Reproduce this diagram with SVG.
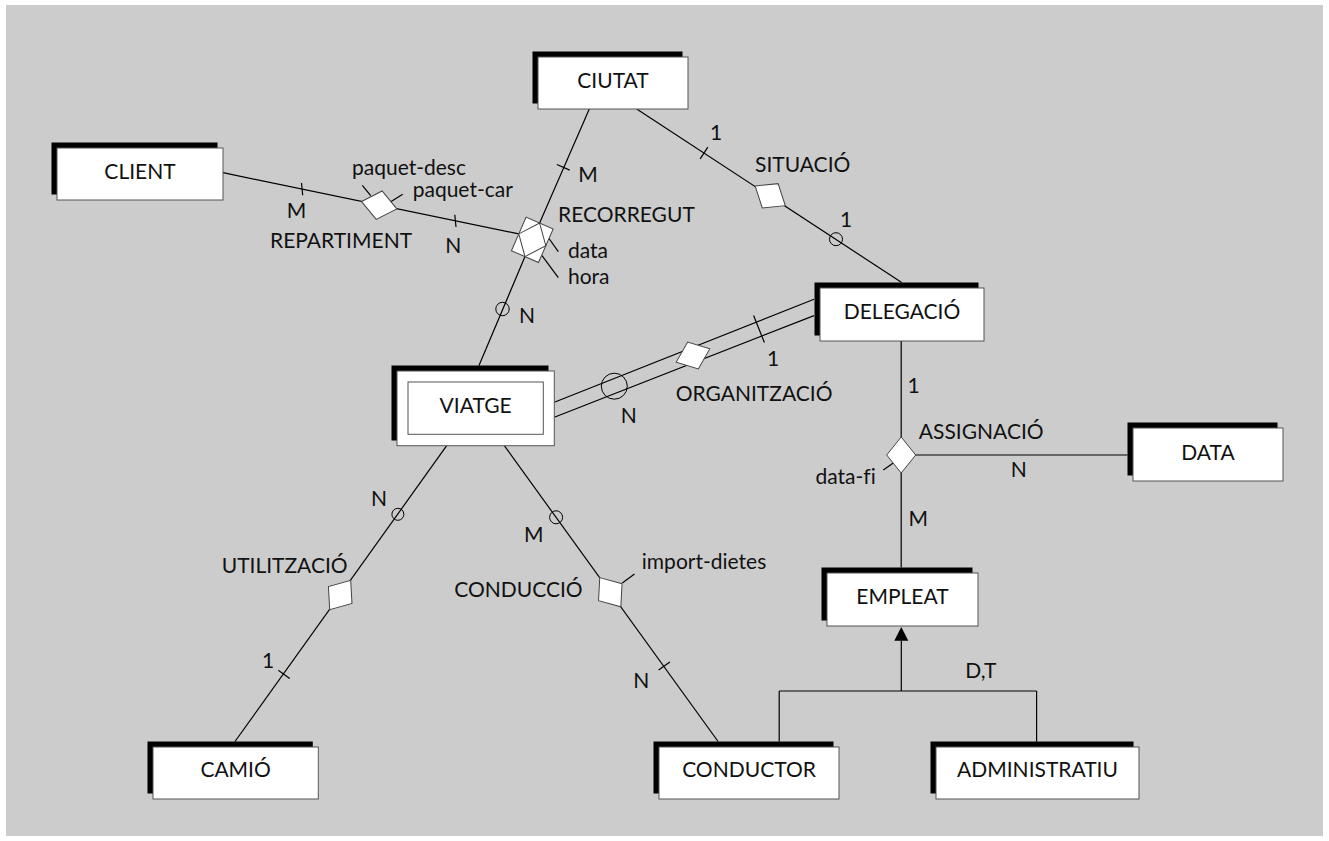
<svg xmlns="http://www.w3.org/2000/svg" xmlns:xlink="http://www.w3.org/1999/xlink" width="1329" height="841" viewBox="0 0 1329 841">
<style>
text{font-family:Lato,"Open Sans","Liberation Sans",sans-serif;font-size:21px;fill:#111;font-variant-ligatures:none}
.sh{fill:#000}
.bx{fill:#fff;stroke:#555;stroke-width:1}
.ln{stroke:#000;stroke-width:1.2;fill:none}
.ci{stroke:#000;stroke-width:1;fill:none}
.rh{fill:#fff;stroke:#444;stroke-width:1}
.m{text-anchor:middle}
.e{text-anchor:end}
</style>
<defs>
<polygon id="rh" class="rh" points="-18,0 0,-14.5 18,0 0,14.5"/>
</defs>
<rect x="0" y="0" width="1329" height="841" fill="#fff"/>
<rect x="6" y="5" width="1317" height="831" fill="#cccccc"/>

<g id="connectors">
<line class="ln" x1="223" y1="172.7" x2="518.8" y2="233.9"/>
<line class="ln" x1="301.5" y1="183" x2="302.7" y2="195.2"/>
<line class="ln" x1="454.8" y1="214.8" x2="456" y2="227"/>
<line class="ln" x1="362.3" y1="185.3" x2="370.7" y2="195.7"/>
<line class="ln" x1="390.7" y1="201.7" x2="402.7" y2="194.3"/>
<line class="ln" x1="589.3" y1="109" x2="539.6" y2="223"/>
<line class="ln" x1="556.9" y1="164.5" x2="569.7" y2="170.1"/>
<line class="ln" x1="525" y1="256.6" x2="479" y2="365.5"/>
<circle class="ci" cx="502.5" cy="309" r="6.7"/>
<line class="ln" x1="549" y1="238.5" x2="558.3" y2="251.7"/>
<line class="ln" x1="542" y1="255.7" x2="558.3" y2="277.7"/>
<line class="ln" x1="636.7" y1="109" x2="901.7" y2="282.5"/>
<line class="ln" x1="700.2" y1="158.9" x2="707.8" y2="147.1"/>
<circle class="ci" cx="836" cy="239.2" r="6.5"/>
<line class="ln" x1="554.3" y1="402.3" x2="814" y2="299.2"/>
<line class="ln" x1="554.3" y1="417.3" x2="814" y2="315.6"/>
<circle class="ci" cx="614.3" cy="386.2" r="13"/>
<line class="ln" x1="753.6" y1="315.5" x2="764.4" y2="342.5"/>
<line class="ln" x1="901.2" y1="341" x2="901.2" y2="567.5"/>
<line class="ln" x1="901.2" y1="455" x2="1127.5" y2="455"/>
<line class="ln" x1="883.3" y1="470" x2="893.6" y2="462.7"/>
<line class="ln" x1="446.7" y1="445.7" x2="235" y2="741.5"/>
<circle class="ci" cx="397.9" cy="514.3" r="6"/>
<line class="ln" x1="278.3" y1="670.2" x2="289.7" y2="678.4"/>
<line class="ln" x1="504.3" y1="445.7" x2="718.1" y2="741.5"/>
<circle class="ci" cx="556.1" cy="517.3" r="6.5"/>
<line class="ln" x1="658.6" y1="670.1" x2="669.9" y2="661.9"/>
<line class="ln" x1="622.3" y1="583" x2="634.5" y2="574"/>
<line class="ln" x1="901.3" y1="640.7" x2="901.3" y2="691"/>
<polygon points="901.3,627 894.3,640.7 908.3,640.7" fill="#000"/>
<line class="ln" x1="779.2" y1="691" x2="1036.6" y2="691"/>
<line class="ln" x1="779.2" y1="691" x2="779.2" y2="741.5"/>
<line class="ln" x1="1036.6" y1="691" x2="1036.6" y2="741.5"/>
<g id="cardinalities">
<text x="296.5" y="218" class="m">M</text>
<text x="453.3" y="253.3" class="m">N</text>
<text x="588" y="181.7" class="m">M</text>
<text x="527" y="322.7" class="m">N</text>
<text x="716" y="140" class="m">1</text>
<text x="846" y="226.7" class="m">1</text>
<text x="773" y="365.7" class="m">1</text>
<text x="628.8" y="423.3" class="m">N</text>
<text x="913.5" y="393" class="m">1</text>
<text x="1018.8" y="477.3" class="m">N</text>
<text x="918.2" y="525.7" class="m">M</text>
<text x="379" y="506" class="m">N</text>
<text x="268" y="668.3" class="m">1</text>
<text x="533.8" y="542.3" class="m">M</text>
<text x="641.2" y="688.3" class="m">N</text>
<text x="965.3" y="678.3">D,T</text>
</g>
</g>

<g id="client"><rect class="sh" x="51.5" y="142.5" width="166" height="52"/><rect class="bx" x="57" y="148" width="166" height="52"/><text x="140" y="179" class="m">CLIENT</text></g>
<g id="ciutat"><rect class="sh" x="532.5" y="51.5" width="150" height="52"/><rect class="bx" x="538" y="57" width="150" height="52"/><text x="613" y="88" class="m">CIUTAT</text></g>
<g id="delegacio"><rect class="sh" x="814.5" y="282.5" width="164" height="53"/><rect class="bx" x="820" y="288" width="164" height="53"/><text x="902" y="319" class="m">DELEGACIÓ</text></g>
<g id="viatge"><rect class="sh" x="391.5" y="365.5" width="157" height="75"/><rect class="bx" x="397" y="371" width="157.3" height="74.7"/><rect class="bx" x="408" y="382" width="135.3" height="52.3"/><text x="475.6" y="413" class="m">VIATGE</text></g>
<g id="data"><rect class="sh" x="1127.5" y="422.5" width="150" height="53"/><rect class="bx" x="1133" y="428" width="150" height="53"/><text x="1208" y="460" class="m">DATA</text></g>
<g id="empleat"><rect class="sh" x="821.5" y="567.5" width="151" height="53"/><rect class="bx" x="827" y="573" width="151" height="53"/><text x="902.5" y="604.3" class="m">EMPLEAT</text></g>
<g id="camio"><rect class="sh" x="147.5" y="741.5" width="165.3" height="52"/><rect class="bx" x="153" y="747" width="165.3" height="52"/><text x="235.6" y="777.3" class="m">CAMIÓ</text></g>
<g id="conductor"><rect class="sh" x="653.5" y="741.5" width="180" height="52"/><rect class="bx" x="659" y="747" width="180" height="52"/><text x="749" y="777.3" class="m">CONDUCTOR</text></g>
<g id="administratiu"><rect class="sh" x="930.5" y="741.5" width="203" height="52"/><rect class="bx" x="936" y="747" width="203" height="52"/><text x="1037.5" y="777.3" class="m">ADMINISTRATIU</text></g>

<g id="repartiment"><use xlink:href="#rh" href="#rh" transform="translate(379.2,205.2) rotate(11.7)"/><text x="270" y="248">REPARTIMENT</text><text x="352" y="175">paquet-desc</text><text x="412.7" y="196.7">paquet-car</text></g>
<g id="recorregut"><g transform="translate(532.3,239.8) rotate(113.6)"><rect class="rh" x="-18.3" y="-14.75" width="36.6" height="29.5"/><polygon class="rh" points="-18.3,0 0,-14.75 18.3,0 0,14.75" fill="none"/></g><text x="558" y="221.7">RECORREGUT</text><text x="568" y="258.3">data</text><text x="568" y="284.3">hora</text></g>
<g id="situacio"><use xlink:href="#rh" href="#rh" transform="translate(770.2,195.8) rotate(33.1)"/><text x="755" y="171.7">SITUACIÓ</text></g>
<g id="organitzacio"><use xlink:href="#rh" href="#rh" transform="translate(693,355.5) rotate(-21.6)"/><text x="675.7" y="400.7">ORGANITZACIÓ</text></g>
<g id="assignacio"><use xlink:href="#rh" href="#rh" transform="translate(901.2,455) rotate(90)"/><text x="918.8" y="439">ASSIGNACIÓ</text><text x="875.7" y="484.3" class="e">data-fi</text></g>
<g id="utilitzacio"><use xlink:href="#rh" href="#rh" transform="translate(340.2,595) rotate(125.7)"/><text x="221.7" y="572.7">UTILITZACIÓ</text></g>
<g id="conduccio"><use xlink:href="#rh" href="#rh" transform="translate(610.3,592.2) rotate(54.1)"/><text x="582.7" y="596.7" class="e">CONDUCCIÓ</text><text x="641.8" y="569.3">import-dietes</text></g>
</svg>
